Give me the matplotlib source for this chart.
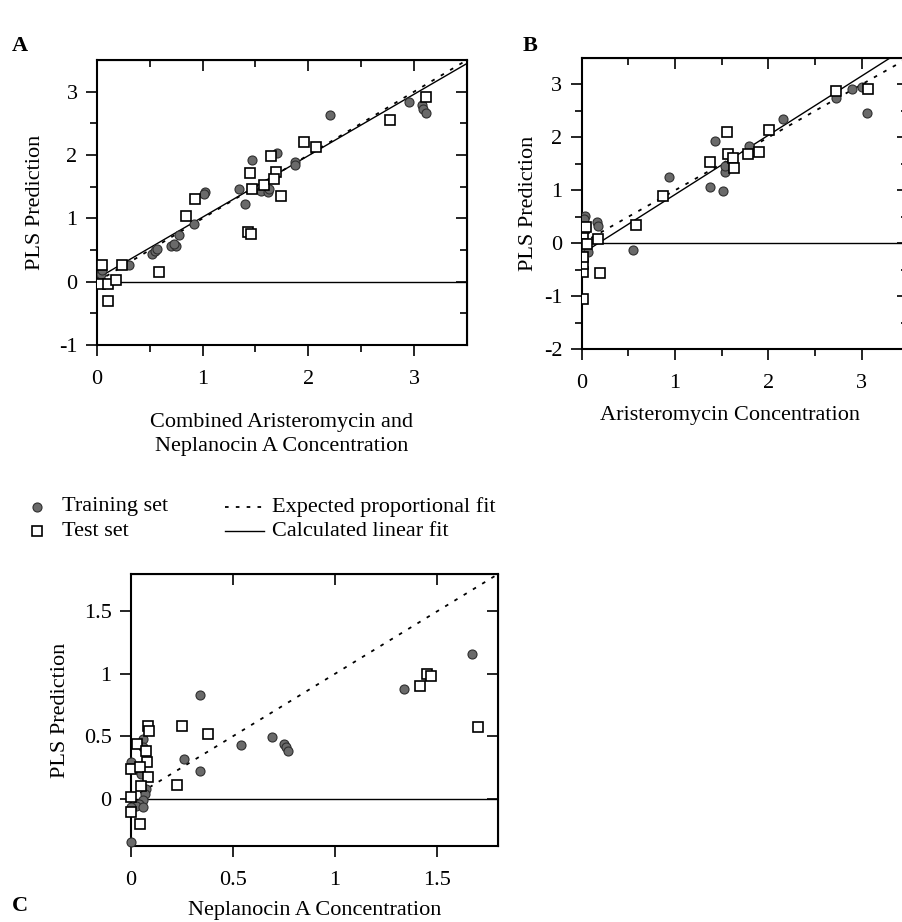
import numpy as np
import matplotlib.pyplot as plt
from matplotlib.lines import Line2D

plt.rcParams['font.family'] = ['Liberation Serif', 'DejaVu Serif']
plt.rcParams['axes.unicode_minus'] = False

# ---- Panel A: combined concentration ----
a_train_x = [0.04, 0.05, 0.30, 0.52, 0.55, 0.57, 0.70, 0.75, 0.73, 0.78, 0.92, 1.02, 1.01,
             1.34, 1.40, 1.47, 1.55, 1.62, 1.63, 1.70, 1.87, 1.87, 2.21, 2.95, 3.08, 3.09, 3.11]
a_train_y = [0.12, 0.18, 0.26, 0.44, 0.49, 0.52, 0.57, 0.56, 0.60, 0.73, 0.91, 1.42, 1.38,
             1.47, 1.22, 1.93, 1.43, 1.42, 1.46, 2.03, 1.89, 1.85, 2.63, 2.84, 2.79, 2.73, 2.67]
a_test_x = [0.05, 0.03, 0.10, 0.18, 0.10, 0.24, 0.59, 0.84, 0.93, 1.43, 1.46, 1.45, 1.47,
            1.58, 1.65, 1.69, 1.68, 1.74, 1.96, 2.07, 2.77, 3.11]
a_test_y = [0.26, -0.03, -0.03, 0.02, -0.31, 0.26, 0.15, 1.04, 1.30, 0.79, 0.76, 1.71, 1.47,
            1.52, 1.99, 1.73, 1.62, 1.36, 2.21, 2.13, 2.55, 2.92]
a_fit = (0.97, 0.05)  # slope, intercept

# ---- Panel B: aristeromycin ----
b_train_x = [0.03, 0.02, 0.02, 0.05, 0.07, 0.16, 0.17, 0.55, 0.94, 1.37, 1.43, 1.51, 1.53,
             1.54, 1.79, 2.16, 2.72, 2.90, 3.00, 3.06]
b_train_y = [0.52, 0.46, -0.11, -0.14, -0.17, 0.40, 0.33, -0.12, 1.25, 1.07, 1.93, 0.99, 1.35,
             1.46, 1.84, 2.34, 2.74, 2.92, 2.96, 2.46]
b_test_x = [0.01, 0.01, 0.01, 0.01, 0.01, 0.02, 0.04, 0.06, 0.17, 0.19, 0.58, 0.87, 1.37,
            1.56, 1.57, 1.62, 1.63, 1.78, 1.90, 2.01, 2.73, 3.07]
b_test_y = [-1.05, -0.54, -0.40, -0.26, 0.18, 0.29, 0.31, -0.01, 0.08, -0.56, 0.35, 0.90, 1.54,
            2.10, 1.69, 1.61, 1.43, 1.69, 1.72, 2.14, 2.87, 2.91]
b_fit = (1.12, -0.20)

# ---- Panel C: neplanocin A ----
c_train_x = [0.34, 0.26, 0.34, 0.54, 0.69, 0.75, 0.76, 0.77, 1.34, 1.67, 0.06, 0.06, 0.00,
             0.05, 0.074, 0.07, 0.06, 0.04, 0.025, 0.00, 0.06, 0.00]
c_train_y = [0.83, 0.32, 0.22, 0.43, 0.49, 0.44, 0.41, 0.38, 0.88, 1.16, 0.48, 0.41, 0.29,
             0.20, 0.08, 0.04, -0.01, -0.04, -0.06, -0.07, -0.07, -0.35]
c_test_x = [0.085, 0.09, 0.25, 0.38, 0.225, 1.45, 1.47, 1.415, 1.70, 0.03, 0.074, 0.00,
            0.077, 0.044, 0.085, 0.05, 0.00, 0.00, 0.044]
c_test_y = [0.58, 0.54, 0.58, 0.52, 0.11, 1.00, 0.98, 0.90, 0.57, 0.44, 0.38, 0.24,
            0.29, 0.25, 0.17, 0.10, 0.01, -0.11, -0.20]

FS = 16
train_style = dict(ls='none', marker='o', ms=6.5, mfc='#6a6a6a', mec='#2e2e2e', mew=0.8, zorder=4)
test_style = dict(ls='none', marker='s', ms=7.2, mfc='white', mec='black', mew=1.2, zorder=5)
dot_style = dict(color='black', lw=1.3, ls=(0, (2, 4)), zorder=3)
solid_style = dict(color='black', lw=1.0, zorder=3)


def setup(ax, xlim, ylim, xmaj, ymaj, xmin=None, ymin=None):
    ax.set_xlim(*xlim)
    ax.set_ylim(*ylim)
    ax.set_xticks(xmaj)
    ax.set_yticks(ymaj)
    ax.set_xticklabels([f'{v:g}' for v in xmaj])
    ax.set_yticklabels([f'{v:g}' for v in ymaj])
    if xmin is not None:
        ax.set_xticks(xmin, minor=True)
    if ymin is not None:
        ax.set_yticks(ymin, minor=True)
    ax.tick_params(which='both', direction='out', labelsize=FS, width=1.2)
    ax.tick_params(axis='x', pad=10)
    ax.tick_params(axis='y', pad=6)
    ax.tick_params(which='major', length=8)
    ax.tick_params(which='minor', length=5)
    for s in ax.spines.values():
        s.set_linewidth(1.5)
    # inward ticks on top and right
    top = ax.secondary_xaxis('top')
    top.set_xticks(xmaj)
    if xmin is not None:
        top.set_xticks(xmin, minor=True)
    top.tick_params(which='both', direction='in', labeltop=False, width=1.2)
    top.tick_params(which='major', length=8)
    top.tick_params(which='minor', length=5)
    right = ax.secondary_yaxis('right')
    right.set_yticks(ymaj)
    if ymin is not None:
        right.set_yticks(ymin, minor=True)
    right.tick_params(which='both', direction='in', labelright=False, width=1.2)
    right.tick_params(which='major', length=8)
    right.tick_params(which='minor', length=5)
    ax.axhline(0, color='black', lw=1.0, zorder=2)


fig = plt.figure(figsize=(9.02, 9.22), dpi=100)

# Panel A
axA = fig.add_axes([0.1075, 0.6258, 0.410, 0.309])
setup(axA, (0, 3.5), (-1, 3.5), [0, 1, 2, 3], [-1, 0, 1, 2, 3],
      np.arange(0.5, 3.5, 1.0), np.arange(-0.5, 3.5, 1.0))
xx = np.array([0, 3.5])
axA.plot(xx, xx, **dot_style)
axA.plot(xx, a_fit[0] * xx + a_fit[1], **solid_style)
axA.plot(a_train_x, a_train_y, **train_style)
axA.plot(a_test_x, a_test_y, **test_style)
axA.set_ylabel('PLS Prediction', fontsize=FS, labelpad=10)
axA.set_xlabel('Combined Aristeromycin and\nNeplanocin A Concentration', fontsize=FS,
               labelpad=17, linespacing=1.35)

# Panel B
axB = fig.add_axes([0.645, 0.6215, 0.362, 0.3156])
setup(axB, (0, 3.5), (-2, 3.5), [0, 1, 2, 3], [-2, -1, 0, 1, 2, 3],
      np.arange(0.5, 3.5, 1.0), np.arange(-1.5, 3.5, 1.0))
axB.plot(xx, xx, **dot_style)
axB.plot(xx, b_fit[0] * xx + b_fit[1], **solid_style)
axB.plot(b_train_x, b_train_y, **train_style)
axB.plot(b_test_x, b_test_y, **test_style)
axB.set_ylabel('PLS Prediction', fontsize=FS, labelpad=4)
axB.set_xlabel('Aristeromycin Concentration', fontsize=FS)
axB.xaxis.set_label_coords(0.454, -0.195)

# Panel C
axC = fig.add_axes([0.1452, 0.0824, 0.407, 0.2950])
setup(axC, (0, 1.8), (-0.38, 1.8), [0, 0.5, 1, 1.5], [0, 0.5, 1, 1.5])
xc = np.array([0, 1.8])
axC.plot(xc, xc, **dot_style)
axC.plot(c_train_x, c_train_y, clip_on=False, **train_style)
axC.plot(c_test_x, c_test_y, clip_on=False, **test_style)
axC.set_ylabel('PLS Prediction', fontsize=FS, labelpad=10)
axC.set_xlabel('Neplanocin A Concentration', fontsize=FS, labelpad=8)

# panel letters
fig.text(20 / 902, 1 - 46 / 922, 'A', fontsize=FS, fontweight='bold', ha='center', va='center')
fig.text(530 / 902, 1 - 46 / 922, 'B', fontsize=FS, fontweight='bold', ha='center', va='center')
fig.text(20 / 902, 1 - 906 / 922, 'C', fontsize=FS, fontweight='bold', ha='center', va='center')

# legend (figure coordinates)
W, H = 902.0, 922.0
rows = [507, 531]
fig.add_artist(Line2D([37 / W], [1 - rows[0] / H], transform=fig.transFigure, **train_style))
fig.add_artist(Line2D([37 / W], [1 - rows[1] / H], transform=fig.transFigure, **test_style))
fig.text(62 / W, 1 - rows[0] / H, 'Training set', fontsize=FS, va='center')
fig.text(62 / W, 1 - rows[1] / H, 'Test set', fontsize=FS, va='center')
fig.add_artist(Line2D([225 / W, 264 / W], [1 - rows[0] / H] * 2, transform=fig.transFigure,
                      **dot_style))
fig.add_artist(Line2D([225 / W, 264 / W], [1 - rows[1] / H] * 2, transform=fig.transFigure,
                      **solid_style))
fig.text(272 / W, 1 - rows[0] / H, 'Expected proportional fit', fontsize=FS, va='center')
fig.text(272 / W, 1 - rows[1] / H, 'Calculated linear fit', fontsize=FS, va='center')

fig.savefig('out.png', dpi=100)
